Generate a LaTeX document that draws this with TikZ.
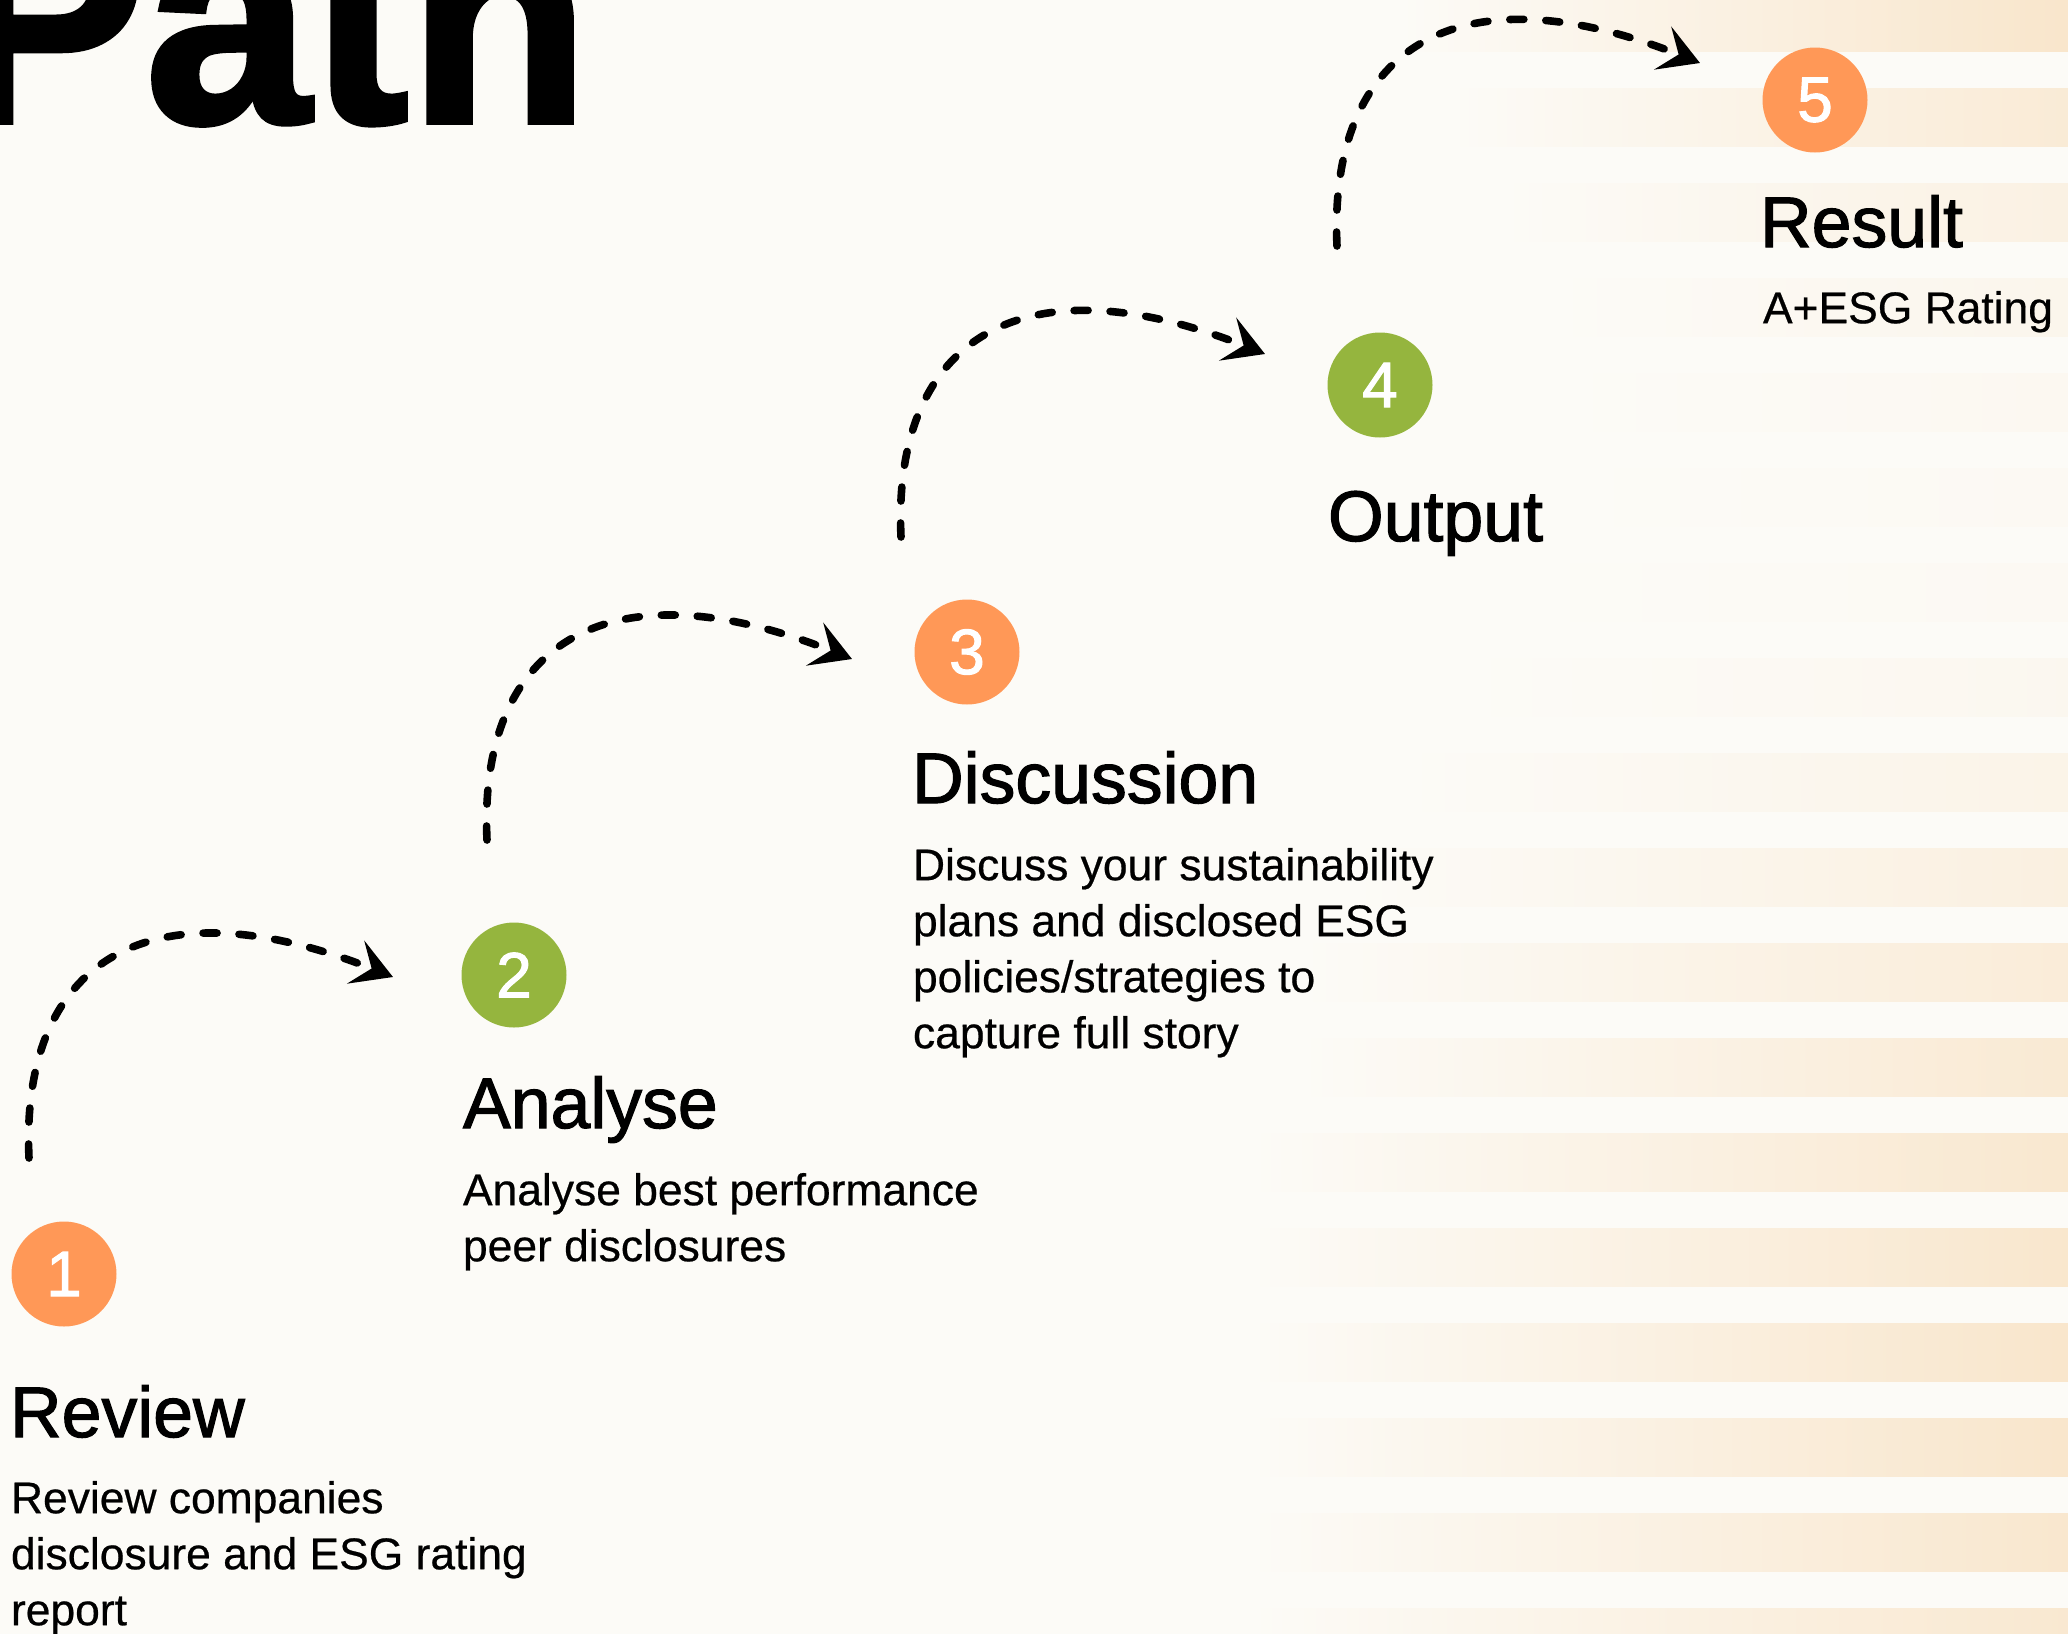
\documentclass[tikz,border=0pt]{standalone}
\usepackage{fontspec}
\setmainfont{Liberation Sans}
\newfontfamily\headfont{Liberation Sans}[FakeBold=1.6]
\newfontfamily\bodyfont{Liberation Sans}[FakeBold=0.5]
\newfontfamily\titlefont{Liberation Sans}[BoldFeatures={FakeBold=2}]
\usetikzlibrary{calc,arrows.meta}

\definecolor{paper}{RGB}{252,251,247}
\definecolor{peach}{RGB}{248,226,196}
\definecolor{stepOrange}{RGB}{255,152,87}
\definecolor{stepGreen}{RGB}{149,181,62}

\begin{document}
\begin{tikzpicture}[
  x=0.5pt, y=-0.5pt,
  every node/.style={inner sep=0pt, outer sep=0pt},
  num/.style={circle, minimum size=52.5pt, text=white, font=\headfont\fontsize{32}{32}\selectfont},
  head/.style={anchor=base west, font=\headfont\fontsize{35.8}{40}\selectfont},
  body/.style={anchor=north west, align=left, font=\bodyfont\fontsize{22.2}{28}\selectfont},
  flow/.style={line width=3.8pt, line cap=round, dash pattern=on 7pt off 11pt,
    -{Stealth[length=20pt,width=23pt,inset=8.5pt]}}
]
\useasboundingbox (0,0) rectangle (2068,1634);
\clip (0,0) rectangle (2068,1634);
\fill[paper] (0,0) rectangle (2068,1634);

% striped glow on the right
\foreach \y/\x/\k in {-7/1400/85, 88/1450/65, 183/1500/40, 278/1550/22, 373/1550/12,
    468/1550/8, 563/1500/8, 658/1450/15, 753/1400/30, 848/1350/45, 943/1300/60,
    1038/1300/70, 1133/1250/78, 1228/1250/82, 1323/1250/85, 1418/1250/85,
    1513/1250/80, 1608/1250/75}
  \fill[left color=paper, right color=peach!\k!paper] (\x,\y) rectangle (2068,\y+58);

\node[anchor=base west, font=\titlefont\bfseries\fontsize{148}{150}\selectfont] (title) at (-52,122) {Path};

\node[num, fill=stepOrange] (n1) at (64,1274) {1};
\node[num, fill=stepGreen] (n2) at (514,975) {2};
\node[num, fill=stepOrange] (n3) at (967,652) {3};
\node[num, fill=stepGreen] (n4) at (1380,385) {4};
\node[num, fill=stepOrange] (n5) at (1815,100) {5};

\node[head] (h1) at (10,1437) {Review};
\node[head] (h2) at (463,1128) {Analyse};
\node[head] (h3) at (912,803) {Discussion};
\node[head] (h4) at (1328,541) {Output};
\node[head] (h5) at (1760,247) {Result};

\node[body] (d1) at (11,1474) {\strut Review companies\\disclosure and ESG rating\\report};
\node[body] (d2) at (463,1166) {\strut Analyse best performance\\peer disclosures};
\node[body] (d3) at (913,841) {\strut Discuss your sustainability\\plans and disclosed ESG\\policies/strategies to\\capture full story};
\node[body] (d5) at (1763,284) {\strut A+ESG Rating};

% dashed hops between the steps
\coordinate (s1) at (29,1158);  \coordinate (t1) at (393,977);
\coordinate (s2) at (487,840);  \coordinate (t2) at (852,659);
\coordinate (s3) at (901,537);  \coordinate (t3) at (1265,354);
\coordinate (s4) at (1337,246); \coordinate (t4) at (1700,63);
\foreach \i in {1,...,4}
  \draw[flow] (s\i) .. controls ($(s\i)+(-9,-198)$) and ($(t\i)+(-243,-97)$) .. (t\i);
\end{tikzpicture}
\end{document}
